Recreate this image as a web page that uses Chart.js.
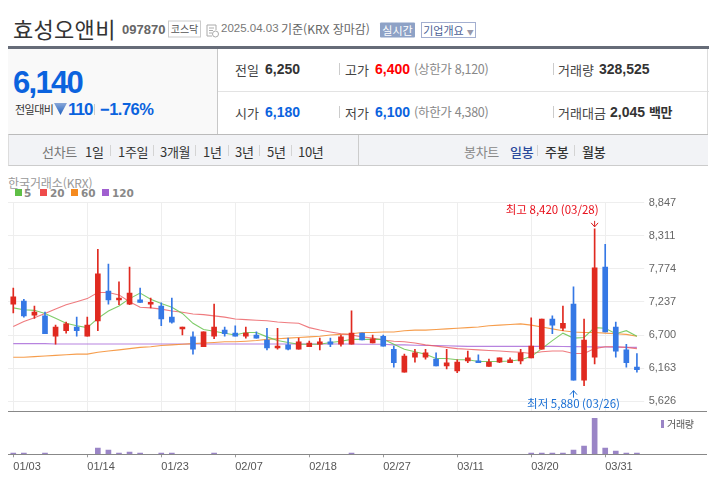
<!DOCTYPE html>
<html lang="ko"><head><meta charset="utf-8">
<script src="https://cdn.jsdelivr.net/npm/chart.js@4/dist/chart.umd.min.js"></script>
<style>
html,body{margin:0;padding:0;background:#fff;width:709px;height:486px;overflow:hidden;font-family:"Noto Sans CJK KR","Noto Sans",sans-serif;}
.t{position:absolute;white-space:nowrap;transform:translateY(-50%);line-height:1;}
.b{position:absolute;}
.n{font-family:"Liberation Sans",sans-serif;}
.k{font-size:13px;color:#444;}
.v{font-family:"Liberation Sans",sans-serif;font-weight:700;font-size:14px;color:#333;}
.g{font-size:12.5px;color:#888;letter-spacing:-.3px;}
.m{font-size:13px;color:#333;letter-spacing:-.3px;}
canvas{position:absolute;}
</style></head><body>
<div class="t" style="left:13px;top:28px;font-size:22px;color:#333;letter-spacing:.3px">효성오앤비</div>
<div class="t n" style="left:122px;top:29px;font-size:13px;font-weight:700;color:#666">097870</div>
<div class="t" style="left:168px;top:29px;width:31px;height:15px;line-height:14px;border:1px solid #ccc;text-align:center;font-size:10px;color:#555">코스닥</div>
<svg class="b" style="left:206px;top:24px" width="13" height="14" viewBox="0 0 13 14"><path d="M1 1h9v5M1 1v11h5M3 4h5M3 6.5h4M3 9h3" fill="none" stroke="#aaa"/><circle cx="9.5" cy="10" r="3" fill="#fff" stroke="#aaa"/></svg>
<div class="t n" style="left:221px;top:29px;font-size:11.5px;color:#777">2025.04.03</div>
<div class="t" style="left:281px;top:29px;font-size:12px;color:#666">기준(KRX 장마감)</div>
<div class="t" style="left:380px;top:29.5px;width:35px;height:15px;line-height:15px;background:#8ea2c6;text-align:center;font-size:11px;color:#fff;border-radius:1px">실시간</div>
<div class="t" style="left:421px;top:29.5px;width:53px;height:14px;line-height:14px;border:1px solid #a3afd0;text-align:center;font-size:11px;color:#4c5f96">기업개요 <span style="font-size:7px;color:#99a">▼</span></div>

<div class="b" style="left:8px;top:46px;width:701px;height:3px;background:#666c78"></div>
<div class="b" style="left:8px;top:49px;width:209px;height:85px;background:#f9f9f9"></div>
<div class="b" style="left:217px;top:49px;width:1px;height:85px;background:#c8c8c8"></div>
<div class="b" style="left:218px;top:91px;width:491px;height:1px;background:#e3e3e3"></div>
<div class="b" style="left:707px;top:49px;width:1px;height:116px;background:#ddd"></div>

<div class="t n" style="left:13px;top:81.5px;font-size:31px;font-weight:700;color:#0b63de;letter-spacing:-1.7px">6,140</div>
<div class="t" style="left:15px;top:109px;font-size:11px;color:#333;letter-spacing:-.5px">전일대비</div>
<svg class="b" style="left:54px;top:103px" width="13" height="12" viewBox="0 0 13 12"><defs><linearGradient id="gr" x1="0" y1="0" x2="0" y2="1"><stop offset="0" stop-color="#8aa8d8"/><stop offset="1" stop-color="#1d5fc0"/></linearGradient></defs><path d="M0 0H13L6.5 12Z" fill="url(#gr)"/></svg>
<div class="t n" style="left:68px;top:109px;font-size:17px;font-weight:700;color:#0b63de;letter-spacing:-1px">110</div>
<div class="b" style="left:94px;top:104px;width:1px;height:11px;background:#ccc"></div>
<div class="t n" style="left:100px;top:109px;font-size:16.5px;font-weight:700;color:#0b63de;letter-spacing:-.5px">−1.76%</div>

<div class="t k" style="left:235px;top:69px">전일</div><div class="t v" style="left:265px;top:69px">6,250</div>
<div class="b" style="left:339px;top:63px;width:1px;height:12px;background:#ccc"></div>
<div class="t k" style="left:345px;top:69px">고가</div><div class="t v" style="left:375px;top:69px;color:#f00">6,400</div>
<div class="t g" style="left:414px;top:69px">(상한가 8,120)</div>
<div class="b" style="left:553px;top:63px;width:1px;height:12px;background:#ccc"></div>
<div class="t k" style="left:558px;top:69px">거래량</div><div class="t v" style="left:599px;top:69px">328,525</div>

<div class="t k" style="left:235px;top:112px">시가</div><div class="t v" style="left:265px;top:112px;color:#0b63de">6,180</div>
<div class="b" style="left:339px;top:106px;width:1px;height:12px;background:#ccc"></div>
<div class="t k" style="left:345px;top:112px">저가</div><div class="t v" style="left:375px;top:112px;color:#0b63de">6,100</div>
<div class="t g" style="left:414px;top:112px">(하한가 4,380)</div>
<div class="b" style="left:553px;top:106px;width:1px;height:12px;background:#ccc"></div>
<div class="t k" style="left:558px;top:112px">거래대금</div><div class="t v" style="left:610px;top:112px">2,045 <span style="font-family:'Noto Sans CJK KR';font-size:13px;letter-spacing:-.4px">백만</span></div>

<div class="b" style="left:8px;top:134px;width:699px;height:30px;background:#f2f3f6;border-top:1px solid #bbb;border-bottom:1px solid #ccc;border-left:1px solid #ddd"></div>
<div class="b" style="left:358px;top:135px;width:1px;height:30px;background:#ccc"></div>
<div class="t m" style="left:42px;top:150.5px;color:#777">선차트</div>
<div class="t m" style="left:85px;top:150.5px">1일</div>
<div class="t m" style="left:118px;top:150.5px">1주일</div>
<div class="t m" style="left:160px;top:150.5px">3개월</div>
<div class="t m" style="left:203px;top:150.5px">1년</div>
<div class="t m" style="left:235px;top:150.5px">3년</div>
<div class="t m" style="left:267px;top:150.5px">5년</div>
<div class="t m" style="left:298px;top:150.5px">10년</div>
<div class="b" style="left:110px;top:145px;width:1px;height:11px;background:#d4d4d4"></div>
<div class="b" style="left:153px;top:145px;width:1px;height:11px;background:#d4d4d4"></div>
<div class="b" style="left:195px;top:145px;width:1px;height:11px;background:#d4d4d4"></div>
<div class="b" style="left:228px;top:145px;width:1px;height:11px;background:#d4d4d4"></div>
<div class="b" style="left:259px;top:145px;width:1px;height:11px;background:#d4d4d4"></div>
<div class="b" style="left:291px;top:145px;width:1px;height:11px;background:#d4d4d4"></div>
<div class="t m" style="left:464px;top:150.5px;color:#888">봉차트</div>
<div class="t m" style="left:510px;top:150.5px;color:#2c4a9c;font-weight:500">일봉</div>
<div class="t m" style="left:545px;top:150.5px;font-weight:500">주봉</div>
<div class="t m" style="left:582px;top:150.5px;font-weight:500">월봉</div>
<div class="b" style="left:537px;top:145px;width:1px;height:11px;background:#d4d4d4"></div>
<div class="b" style="left:574px;top:145px;width:1px;height:11px;background:#d4d4d4"></div>

<div class="t" style="left:8px;top:183px;font-size:12px;color:#999;letter-spacing:-.1px">한국거래소(KRX)</div>
<div id="legend"></div>

<canvas id="price" width="709" height="218" style="left:0;top:198px;width:709px;height:218px"></canvas>
<canvas id="vol" width="709" height="81" style="left:0;top:405px;width:709px;height:81px"></canvas>
<div class="b" style="left:8px;top:411px;width:699px;height:1px;background:#888"></div>
<div class="b" style="left:8px;top:454px;width:699px;height:1px;background:#888"></div>
<div class="b" style="left:661px;top:420px;width:3px;height:8px;background:#9a85c6"></div>
<div class="t" style="left:667px;top:424px;font-size:10px;color:#555;letter-spacing:-.3px">거래량</div>

<script>
const dates=["01/03","01/06","01/07","01/08","01/09","01/10","01/13","01/14","01/15","01/16","01/17","01/20","01/21","01/22","01/23","01/24","01/31","02/03","02/04","02/05","02/06","02/07","02/10","02/11","02/12","02/13","02/14","02/17","02/18","02/19","02/20","02/21","02/24","02/25","02/26","02/27","02/28","03/04","03/05","03/06","03/07","03/10","03/11","03/12","03/13","03/14","03/17","03/18","03/19","03/20","03/21","03/24","03/25","03/26","03/27","03/28","03/31","04/01","04/02","04/03"];
const opens=[7200,7250,7020,7010,6680,6770,6830,6680,6930,7410,7270,7200,7270,7200,7170,6990,6800,6670,6510,6680,6780,6730,6680,6700,6620,6490,6540,6470,6510,6550,6590,6550,6550,6730,6570,6680,6470,6100,6340,6340,6310,6200,6120,6280,6280,6190,6260,6250,6280,6330,6470,6960,6810,7200,5970,6340,7800,6830,6460,6180];
const closes=[7320,7010,7070,6720,6830,6880,6770,6860,7690,7270,7300,7380,7230,7230,6960,6910,6830,6470,6750,6830,6720,6680,6730,6650,6490,6520,6470,6590,6570,6590,6550,6670,6730,6620,6640,6520,6250,6360,6410,6410,6200,6250,6260,6330,6250,6260,6330,6300,6410,6520,6960,6860,6890,5970,6620,7790,6750,6440,6250,6140];
const highs=[7460,7280,7170,7070,6860,6910,6990,6990,8090,7850,7560,7800,7460,7300,7220,7300,6830,6750,6750,7200,6830,6850,6830,6750,6810,6810,6650,6650,6600,6650,6650,6700,7090,6730,6700,6700,6520,6390,6470,6470,6410,6470,6300,6440,6380,6310,6330,6330,6470,6980,6960,7010,7170,7480,6960,8420,8170,6910,6550,6400];
const lows=[7060,6990,6970,6720,6550,6730,6680,6680,6770,7200,7190,7190,7230,7140,6850,6890,6700,6390,6510,6640,6680,6680,6650,6650,6460,6470,6460,6470,6510,6460,6510,6520,6550,6620,6570,6520,6180,6100,6260,6310,6200,6150,6090,6250,6250,6190,6250,6250,6230,6330,6470,6720,6770,5970,5880,6230,6750,6340,6180,6100];
const ma5=[7140,7110,7100,7050,6970,6890,6850,6820,6970,7090,7170,7290,7380,7280,7210,7150,7050,6890,6790,6760,6730,6700,6740,6740,6670,6610,6580,6550,6550,6550,6580,6600,6630,6630,6630,6630,6550,6470,6430,6390,6320,6320,6300,6300,6270,6270,6270,6280,6300,6350,6480,6610,6730,6650,6660,6820,6810,6720,6770,6680];
const ma20=[6840,6920,6980,7050,7120,7190,7240,7290,7390,7390,7350,7240,7150,7140,7120,7090,7070,7040,7030,7010,6990,6960,6950,6940,6930,6910,6900,6890,6820,6780,6750,6720,6700,6670,6650,6620,6600,6590,6570,6540,6520,6500,6480,6470,6460,6450,6440,6430,6420,6400,6430,6440,6440,6400,6400,6480,6510,6510,6500,6480];
const ma60=[6340,6340,6350,6360,6370,6380,6390,6390,6420,6440,6460,6480,6500,6510,6530,6540,6550,6560,6570,6580,6590,6590,6600,6610,6630,6640,6650,6660,6670,6680,6700,6710,6720,6740,6740,6750,6750,6770,6780,6780,6790,6800,6810,6820,6830,6850,6860,6870,6880,6860,6830,6800,6770,6750,6740,6740,6730,6720,6710,6680];
const ma120=[6560,6560,6560,6560,6555,6555,6555,6555,6555,6555,6555,6555,6555,6555,6555,6555,6555,6555,6555,6555,6555,6555,6555,6555,6555,6555,6555,6555,6555,6555,6555,6555,6555,6550,6550,6550,6540,6540,6535,6530,6530,6525,6520,6516,6516,6516,6516,6516,6516,6516,6516,6516,6514,6512,6510,6508,6506,6504,6502,6500];
const volumes=[330000,330000,0,330000,0,0,0,0,1580000,1080000,330000,580000,330000,0,330000,330000,0,0,0,330000,0,0,0,0,0,0,0,0,0,0,0,0,330000,0,0,0,0,0,0,0,0,0,0,0,0,0,0,0,0,330000,330000,330000,330000,1080000,2080000,9000000,1580000,830000,330000,328525];
const priceTicks=[5626,6163,6700,7237,7774,8311,8847];
const volMax=10800000;
const maNames=["5","20","60","120"];
const maLegendColors=["#5fbf46","#ef4b4b","#f58a1f","#a05fd0"];
const maLineColors=["rgba(105,195,80,.85)","rgba(235,90,95,.8)","rgba(245,140,45,.85)","rgba(165,100,215,.8)"];
const highNote="최고 8,420 (03/28)", lowNote="최저 5,880 (03/26)";
const highIdx=55, lowIdx=53, highVal=8420, lowVal=5880;
const RED="#e02a20", BLUE="#3578e5";

const lg=document.getElementById('legend');
[[15,24],[40,50],[71,81],[102,112]].forEach((p,i)=>{
  const s=document.createElement('div');s.className='b';
  s.style.cssText=`left:${p[0]}px;top:189px;width:7px;height:7px;background:${maLegendColors[i]}`;
  const t=document.createElement('div');t.className='t';
  t.style.cssText=`left:${p[1]}px;top:193px;font:700 10.5px "DejaVu Sans",sans-serif;color:#888`;
  t.textContent=maNames[i];lg.append(s,t);
});
const up=dates.map((_,i)=>closes[i]>=opens[i]);
const cols=up.map(u=>u?RED:BLUE);
const lineDs=(d,c,o)=>({type:'line',data:d,borderColor:c,borderWidth:1.1,pointRadius:0,tension:0,order:o});
const notes={id:'notes',afterDatasetsDraw(c){
  const g=c.ctx,x=c.scales.x,y=c.scales.y;
  g.save();g.font='11.5px "Noto Sans CJK KR"';g.textBaseline='middle';
  const xh=x.getPixelForValue(highIdx),yh=y.getPixelForValue(highVal),xl=x.getPixelForValue(lowIdx);
  g.fillStyle='#e8101c';g.textAlign='right';g.fillText(highNote,xh+4,12);
  g.strokeStyle='#d81c1c';g.lineWidth=1;g.beginPath();
  g.moveTo(xh,yh-8);g.lineTo(xh,yh-2);g.moveTo(xh-3.5,yh-6);g.lineTo(xh,yh-2);g.lineTo(xh+3.5,yh-6);g.stroke();
  const yb=y.getPixelForValue(lowVal)+5;
  g.fillStyle='#1a6fd4';g.textAlign='center';g.fillText(lowNote,xl,206);
  g.strokeStyle='#1a6fd4';g.beginPath();
  g.moveTo(xl,yb+7);g.lineTo(xl,yb);g.moveTo(xl-3.5,yb+4);g.lineTo(xl,yb);g.lineTo(xl+3.5,yb+4);g.stroke();
  g.restore();
}};
const every7={afterBuildTicks(s){s.ticks=s.ticks.filter(t=>t.value%7===0&&t.value<57||t.value===0);}};
new Chart(document.getElementById('price'),{
  type:'bar',plugins:[notes],
  data:{labels:dates,datasets:[
    {data:dates.map((_,i)=>[Math.min(opens[i],closes[i]),Math.max(opens[i],closes[i])]),backgroundColor:cols,barThickness:5,grouped:false,order:1},
    {data:dates.map((_,i)=>[lows[i],highs[i]]),backgroundColor:cols,barThickness:1,grouped:false,order:2},
    lineDs(ma5,maLineColors[0],3),lineDs(ma20,maLineColors[1],4),lineDs(ma60,maLineColors[2],5),lineDs(ma120,maLineColors[3],6)
  ]},
  options:{responsive:false,animation:false,devicePixelRatio:1,
    layout:{padding:{left:8,top:4.5,bottom:5,right:0}},
    plugins:{legend:{display:false},tooltip:{enabled:false}},
    scales:{
      x:{offset:true,...every7,afterFit(s){s.height=0;s.paddingLeft=0;s.paddingRight=0;},grid:{offset:false,color:'#eeeeee',drawTicks:false},border:{display:false},ticks:{display:false,autoSkip:false}},
      y:{position:'right',min:5469,max:8847,afterBuildTicks(s){s.ticks=priceTicks.map(v=>({value:v}));},
         afterFit(s){s.width=66.8;s.paddingTop=0;s.paddingBottom=0;},
         grid:{color:'#eeeeee',tickLength:2},border:{display:false},
         ticks:{padding:4.5,color:'#666',font:{family:'"Liberation Sans"',size:11},callback:v=>v.toLocaleString('en-US')}}
    }}
});
new Chart(document.getElementById('vol'),{
  type:'bar',
  data:{labels:dates,datasets:[{data:volumes,backgroundColor:'#9a85c6',barThickness:5}]},
  options:{responsive:false,animation:false,devicePixelRatio:1,
    layout:{padding:{left:8,right:66.8,top:6,bottom:0}},
    plugins:{legend:{display:false},tooltip:{enabled:false}},
    scales:{
      x:{offset:true,...every7,afterFit(s){s.height=31.7;s.paddingLeft=0;s.paddingRight=0;},grid:{offset:false,drawOnChartArea:false,color:'#999',tickLength:3},border:{display:false},
         ticks:{autoSkip:false,maxRotation:0,align:'start',padding:3,color:'#555',font:{family:'"Liberation Sans"',size:11}}},
      y:{display:false,min:0,max:volMax}
    }}
});
</script>
</body></html>
